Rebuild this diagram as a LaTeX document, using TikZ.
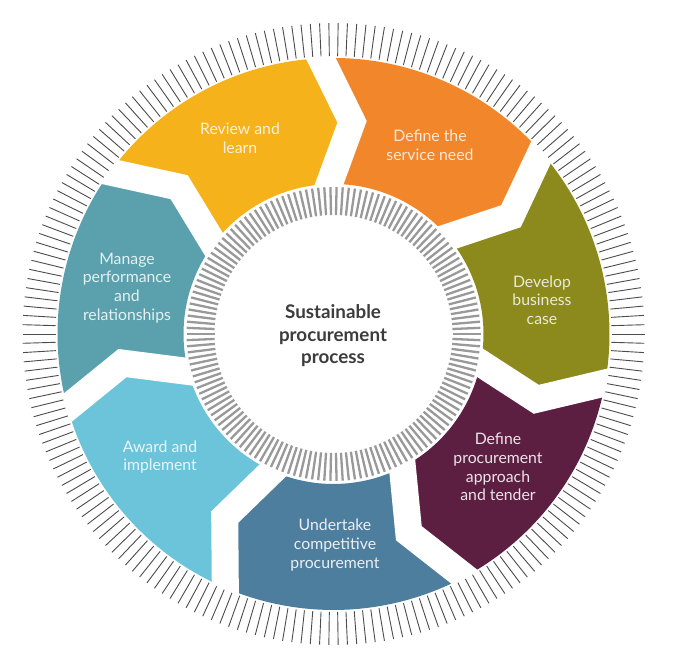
\documentclass[tikz,border=0pt]{standalone}
\usepackage{fontspec}
\setmainfont{Lato}
\definecolor{cyellow}{HTML}{F6B21B}
\definecolor{corange}{HTML}{F1862B}
\definecolor{colive}{HTML}{8C8A1C}
\definecolor{cplum}{HTML}{5C1F42}
\definecolor{csteel}{HTML}{4E7E9E}
\definecolor{clight}{HTML}{6CC4DA}
\definecolor{cteal}{HTML}{5AA1AD}
\definecolor{ctext}{HTML}{3C3C3C}
\tikzset{
  segtext/.style={align=center, font=\fontsize{15.8}{18.7}\selectfont, inner sep=0pt},
  centertext/.style={align=center, font=\fontsize{18.8}{22.5}\selectfont\bfseries, text=ctext, inner sep=0pt},
  outtick/.style={line width=0.9pt, draw=black!70},
  intick/.style={line width=2.3pt, draw=black!40},
  gapline/.style={line width=27pt, draw=white, line join=miter, line cap=butt}
}
\begin{document}
\begin{tikzpicture}[x=1pt,y=1pt]
\useasboundingbox (0,0) rectangle (675,668);
\fill[white] (0,0) rectangle (675,668);
\begin{scope}[shift={(333.5,334)}]
  \def\Ra{150}\def\Rm{213}\def\Rb{276}\def\tw{9}
  % segments
  \foreach \k/\c in {0/corange,1/colive,2/cplum,3/csteel,4/clight,5/cteal,6/cyellow}{
    \pgfmathsetmacro\a{94-\k*51.428571}
    \pgfmathsetmacro\b{\a-51.428571}
    \fill[\c] (\a:\Rb) arc[start angle=\a, end angle=\b, radius=\Rb]
      -- ({\b-\tw}:\Rm) -- (\b:\Ra)
      arc[start angle=\b, end angle=\a, radius=\Ra]
      -- ({\a-\tw}:\Rm) -- cycle;
  }
  % white chevron gaps
  \foreach \k in {0,...,6}{
    \pgfmathsetmacro\a{94-\k*51.428571}
    \draw[gapline] (\a:136) -- ({\a-\tw}:\Rm) -- (\a:292);
  }
  % outer ticks
  \foreach \i in {0,...,209}{
    \pgfmathsetmacro\t{\i*1.7142857}
    \draw[outtick] (\t:278) -- (\t:311);
  }
  % inner ticks
  \foreach \i in {0,...,149}{
    \pgfmathsetmacro\t{\i*2.4}
    \draw[intick] (\t:119) -- (\t:147);
  }
\end{scope}
\node[segtext, text=white!82!cyellow] (review) at (240,530) {Review and\\learn};
\node[segtext, text=white!82!corange] (define) at (430,523) {Define the\\service need};
\node[segtext, text=white!82!colive] (develop) at (542,368) {Develop\\business\\case};
\node[segtext, text=white!88!cplum] (approach) at (498,201) {Define\\procurement\\approach\\and tender};
\node[segtext, text=white!88!csteel] (undertake) at (335,123) {Undertake\\competitive\\procurement};
\node[segtext, text=white!84!clight] (award) at (160,211) {Award and\\implement};
\node[segtext, text=white!84!cteal] (manage) at (127,380) {Manage\\performance\\and\\relationships};
\node[centertext] (centre) at (333,332) {Sustainable\\procurement\\process};
\end{tikzpicture}
\end{document}
